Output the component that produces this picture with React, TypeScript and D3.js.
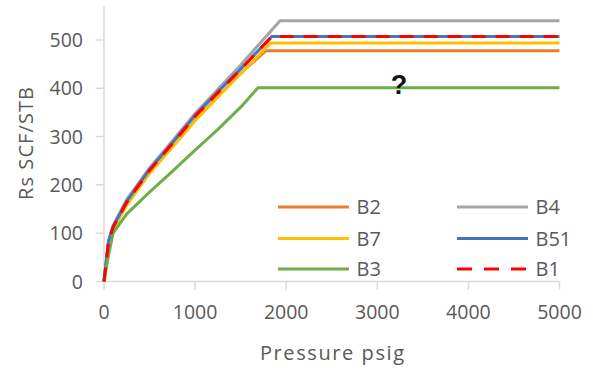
import React from "react";
import * as d3 from "d3";

const xTicks = [0, 1000, 2000, 3000, 4000, 5000];
const yTicks = [0, 100, 200, 300, 400, 500];

const seriesNames = ["B2", "B4", "B7", "B51", "B3", "B1"];
const seriesColors = ["#ED7D31", "#A5A5A5", "#FFC000", "#4472C4", "#70AD47", "#FF0000"];
const seriesDashed = [false, false, false, false, false, true];

const b2P = [0, 50, 100, 250, 500, 750, 1000, 1250, 1500, 1778, 5000];
const b2V = [0, 78, 108, 160, 225, 279, 334, 383, 431, 478, 478];
const b4P = [0, 50, 100, 250, 500, 750, 1000, 1250, 1500, 1932, 5000];
const b4V = [0, 84, 116, 170, 235, 291, 348, 398, 448, 540, 540];
const b7P = [0, 50, 100, 250, 500, 750, 1000, 1250, 1500, 1830, 5000];
const b7V = [0, 78, 108, 158, 224, 278, 333, 382, 430, 494, 494];
const b51P = [0, 50, 100, 250, 500, 750, 1000, 1250, 1500, 1841, 5000];
const b51V = [0, 84, 114, 166, 232, 287, 344, 393, 440, 507, 507];
const b3P = [0, 50, 100, 250, 500, 750, 1000, 1250, 1500, 1690, 5000];
const b3V = [0, 55, 100, 140, 185, 228, 272, 315, 361, 401, 401];
const b1P = [0, 50, 100, 250, 500, 750, 1000, 1250, 1500, 1841, 5000];
const b1V = [0, 82, 112, 164, 230, 285, 342, 391, 439, 507, 507];

const seriesP = [b2P, b4P, b7P, b51P, b3P, b1P];
const seriesV = [b2V, b4V, b7V, b51V, b3V, b1V];

const FONT = "'Open Sans', 'Liberation Sans', sans-serif";
const TEXT = "#595959";
const AXIS = "#D9D9D9";

export default function App() {
  const x = d3.scaleLinear().domain([0, 5000]).range([104, 559.5]);
  const y = d3.scaleLinear().domain([0, 500]).range([281.5, 40]);
  const line = d3
    .line<[number, number]>()
    .x((d) => x(d[0]))
    .y((d) => y(d[1]));

  const legendCols = [278, 457];
  const legendRows = [207, 238.5, 269];

  return (
    <svg
      width={593}
      height={370}
      style={{ position: "absolute", left: 0, top: 0, background: "#fff" }}
      fontFamily={FONT}
    >
      {/* axes */}
      <line x1={x(0)} x2={x(0)} y1={6} y2={y(0)} stroke={AXIS} strokeWidth={1.5} />
      <line x1={x(0)} x2={x(5000)} y1={y(0)} y2={y(0)} stroke={AXIS} strokeWidth={1.5} />
      {yTicks.map((t) => (
        <g key={"y" + t}>
          <line x1={x(0) - 8} x2={x(0)} y1={y(t)} y2={y(t)} stroke={AXIS} strokeWidth={1.5} />
          <text x={83} y={y(t) + 7} textAnchor="end" fontSize={19.5} fill={TEXT}>
            {t}
          </text>
        </g>
      ))}
      {xTicks.map((t) => (
        <g key={"x" + t}>
          <line x1={x(t)} x2={x(t)} y1={y(0)} y2={y(0) + 8} stroke={AXIS} strokeWidth={1.5} />
          <text x={x(t)} y={319} textAnchor="middle" fontSize={19.5} fill={TEXT}>
            {t}
          </text>
        </g>
      ))}
      <text x={332} y={360} textAnchor="middle" fontSize={20} fill={TEXT} textLength={144} lengthAdjust="spacing">
        Pressure psig
      </text>
      <text
        transform={`translate(33,143.5) rotate(-90)`}
        textAnchor="middle"
        fontSize={20}
        fill={TEXT}
        textLength={113}
        lengthAdjust="spacing"
      >
        Rs  SCF/STB
      </text>

      {/* series */}
      {seriesNames.map((n, i) => {
        const pts = seriesP[i].map((p, j) => [p, seriesV[i][j]] as [number, number]);
        return (
          <path
            key={n}
            d={line(pts) || ""}
            fill="none"
            stroke={seriesColors[i]}
            strokeWidth={3}
            strokeDasharray={seriesDashed[i] ? "14 10" : undefined}
            strokeLinejoin="round"
          />
        );
      })}

      <text x={399} y={94} textAnchor="middle" fontSize={27} fontWeight="bold" fill="#111" fontFamily="'Liberation Sans', Arial, sans-serif">
        ?
      </text>

      {/* legend */}
      {seriesNames.map((n, i) => {
        const col = i % 2;
        const row = Math.floor(i / 2);
        const lx = legendCols[col];
        const ly = legendRows[row];
        return (
          <g key={"lg" + n}>
            <line
              x1={lx}
              x2={lx + 71}
              y1={ly}
              y2={ly}
              stroke={seriesColors[i]}
              strokeWidth={3}
              strokeDasharray={seriesDashed[i] ? "15 12" : undefined}
            />
            <text x={lx + 78.5} y={ly + 7} fontSize={20} fill={TEXT}>
              {n}
            </text>
          </g>
        );
      })}
    </svg>
  );
}
